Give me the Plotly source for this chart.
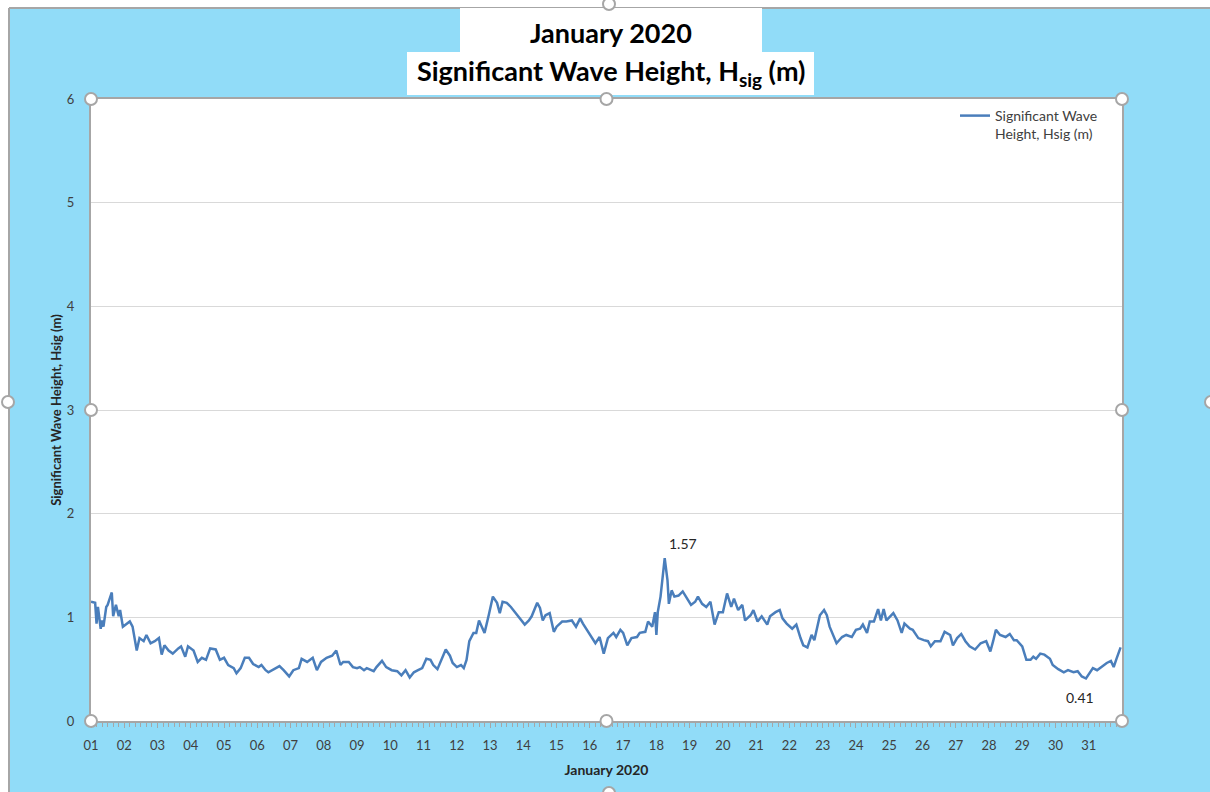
import pandas as pd
import plotly.graph_objects as go

# ---- data (hours since 2020-01-01 00:00, Hsig in m) ----
hours = [
    0, 3, 4, 5, 7, 8, 9, 11, 12, 15, 16, 18, 20, 21, 23, 26, 28, 30, 32, 33,
    35, 38, 40, 43, 46, 49, 51, 53, 56, 59, 63, 65, 68, 70, 74, 77, 80, 83, 86, 90,
    93, 96, 99, 103, 105, 108, 111, 114, 117, 121, 123, 126, 128, 132, 136, 139, 143, 146, 150, 152,
    156, 160, 163, 166, 170, 174, 177,
    180, 182, 186, 189, 192, 194, 197, 199, 204, 206, 210, 213, 217, 221, 224, 227, 230, 233, 236, 239,
    240, 242, 245, 247, 250, 253, 256, 259, 261, 264, 267, 269, 271, 273, 276, 278, 280, 282, 284, 287,
    290, 293, 295, 297, 300, 303, 306, 310, 313, 316, 318, 322, 324, 326, 328, 331, 334, 336, 340, 343,
    347, 350, 353, 355, 359, 361, 364,
    367, 370, 373, 377, 379, 382, 384, 387, 390, 394, 396, 400, 402, 405, 407, 408, 409, 411, 414, 416,
    417, 419, 421, 424, 427, 430, 433, 436, 438, 441, 444, 447, 450, 453, 456, 459, 462, 464, 467, 470,
    472, 476, 478, 481, 484, 488, 490, 494, 497, 499, 502, 506, 509, 512, 514, 517, 520, 522, 526, 529,
    531, 533, 536, 538, 542, 545, 549, 552,
    555, 557, 560, 562, 565, 568, 570, 572, 574, 577, 579, 582, 585, 587, 591, 593, 597, 601, 604, 606,
    609, 613, 616, 620, 622, 625, 628, 631, 634, 638, 642, 646, 649, 651, 653, 656, 660, 663, 666, 668,
    672, 675, 678, 680, 682, 685, 688, 692, 694, 698, 702, 705, 709, 712, 715, 718, 721, 723, 726, 729,
    733, 736, 738, 740, 743,
]
hsig = [
    1.15, 1.14, 0.94, 1.10, 0.89, 0.97, 0.91, 1.10, 1.12, 1.24, 1.01, 1.12, 1.01, 1.07, 0.91, 0.94, 0.96, 0.91, 0.78, 0.68,
    0.80, 0.77, 0.83, 0.75, 0.77, 0.80, 0.64, 0.73, 0.68, 0.65, 0.70, 0.72, 0.62, 0.72, 0.68, 0.57, 0.61, 0.59, 0.70, 0.69,
    0.59, 0.61, 0.54, 0.51, 0.46, 0.51, 0.61, 0.61, 0.55, 0.52, 0.54, 0.49, 0.47, 0.50, 0.53, 0.49, 0.43, 0.49, 0.51, 0.60,
    0.57, 0.61, 0.49, 0.57, 0.61, 0.63, 0.68,
    0.54, 0.57, 0.57, 0.52, 0.51, 0.52, 0.49, 0.51, 0.48, 0.52, 0.58, 0.52, 0.49, 0.48, 0.44, 0.49, 0.42, 0.47, 0.49, 0.51,
    0.54, 0.60, 0.59, 0.54, 0.50, 0.60, 0.69, 0.63, 0.56, 0.52, 0.54, 0.51, 0.59, 0.77, 0.85, 0.85, 0.97, 0.91, 0.85, 1.02,
    1.20, 1.14, 1.04, 1.15, 1.14, 1.10, 1.05, 0.99, 0.93, 0.97, 1.01, 1.14, 1.09, 0.97, 1.02, 1.04, 0.86, 0.91, 0.96, 0.96,
    0.97, 0.91, 0.99, 0.94, 0.86, 0.81, 0.75,
    0.81, 0.65, 0.80, 0.85, 0.81, 0.88, 0.85, 0.73, 0.80, 0.81, 0.85, 0.86, 0.96, 0.91, 1.05, 0.83, 1.05, 1.20, 1.57, 1.36,
    1.13, 1.26, 1.20, 1.21, 1.25, 1.18, 1.12, 1.15, 1.20, 1.13, 1.10, 1.15, 0.93, 1.05, 1.05, 1.23, 1.10, 1.18, 1.07, 1.12,
    0.97, 1.02, 1.07, 0.96, 1.01, 0.93, 1.01, 1.05, 1.07, 0.99, 0.94, 0.89, 0.93, 0.80, 0.73, 0.71, 0.83, 0.78, 1.02, 1.07,
    1.02, 0.91, 0.81, 0.75, 0.81, 0.83, 0.81, 0.88,
    0.89, 0.93, 0.85, 0.96, 0.96, 1.08, 0.97, 1.08, 0.97, 1.01, 1.04, 0.97, 0.85, 0.94, 0.89, 0.88, 0.80, 0.78, 0.77, 0.72,
    0.77, 0.77, 0.86, 0.83, 0.73, 0.80, 0.84, 0.77, 0.72, 0.69, 0.75, 0.77, 0.67, 0.77, 0.88, 0.83, 0.81, 0.84, 0.78, 0.78,
    0.72, 0.59, 0.59, 0.62, 0.60, 0.65, 0.64, 0.60, 0.54, 0.50, 0.47, 0.49, 0.47, 0.48, 0.43, 0.41, 0.47, 0.51, 0.49, 0.52,
    0.56, 0.58, 0.52, 0.60, 0.71,
]
day_labels = [f"{d:02d}" for d in range(1, 32)]
y_ticks = [0, 1, 2, 3, 4, 5, 6]
series_name = "Significant Wave<br>Height, Hsig (m)"
title_line1 = "January 2020"
title_line2 = "Significant Wave Height, H<sub>sig</sub> (m)"
x_title = "January 2020"
y_title = "Significant Wave Height, Hsig (m)"

start = pd.Timestamp("2020-01-01")
times = start + pd.to_timedelta(hours, unit="h")
day_ticks = [start + pd.Timedelta(days=i) for i in range(len(day_labels))]

BLUE_BG = "#91DCF8"
LINE = "#4A7EBB"
GRAY = "#A6A6A6"
TXT = "#404040"
FONT = "Lato"

W, H = 1210, 792
L, R, T, B = 91, 1122, 99, 721   # plot area in screen pixels


def px(xp):
    return (xp - L) / (R - L)


def py(yp):
    return (B - yp) / (B - T)


fig = go.Figure()
fig.add_trace(go.Scatter(
    x=times, y=hsig, mode="lines", name=series_name,
    line=dict(color=LINE, width=2.5), showlegend=True,
))

imax = max(range(len(hsig)), key=lambda i: hsig[i])
imin = min(range(len(hsig)), key=lambda i: hsig[i])

annotations = [
    dict(x=times[imax], y=hsig[imax], xref="x", yref="y", text=f"{hsig[imax]:.2f}",
         showarrow=False, xshift=18, yshift=15, font=dict(family=FONT, size=14, color="#262626")),
    dict(x=times[imin], y=hsig[imin], xref="x", yref="y", text=f"{hsig[imin]:.2f}",
         showarrow=False, xshift=-6, yshift=-19, font=dict(family=FONT, size=14, color="#262626")),
    dict(x=px(611), y=py(33), xref="paper", yref="paper", text=f"<b>{title_line1}</b>",
         showarrow=False, xanchor="center", yanchor="middle",
         font=dict(family=FONT, size=27, color="#000000")),
    dict(x=px(611), y=py(72), xref="paper", yref="paper", text=f"<b>{title_line2}</b>",
         showarrow=False, xanchor="center", yanchor="middle",
         font=dict(family=FONT, size=27, color="#000000")),
]

shapes = [
    # white page strips outside the chart frame (top and left)
    dict(type="rect", xref="paper", yref="paper", x0=px(-5), x1=px(1220), y0=py(8), y1=py(-5),
         fillcolor="white", line=dict(width=0), layer="above"),
    dict(type="rect", xref="paper", yref="paper", x0=px(-5), x1=px(9), y0=py(800), y1=py(8),
         fillcolor="white", line=dict(width=0), layer="above"),
    # chart frame border
    dict(type="line", xref="paper", yref="paper", x0=px(9), x1=px(1220), y0=py(8), y1=py(8),
         line=dict(color=GRAY, width=2), layer="above"),
    dict(type="line", xref="paper", yref="paper", x0=px(9), x1=px(9), y0=py(8), y1=py(800),
         line=dict(color=GRAY, width=2), layer="above"),
    # title boxes
    dict(type="rect", xref="paper", yref="paper", x0=px(460), x1=px(762), y0=py(53), y1=py(8),
         fillcolor="white", line=dict(width=0)),
    dict(type="rect", xref="paper", yref="paper", x0=px(407), x1=px(814), y0=py(95), y1=py(52),
         fillcolor="white", line=dict(width=0)),
]

# selection handles
handles = [(0, 0), (0.5, 0), (1, 0), (0, 0.5), (1, 0.5), (0, 1), (0.5, 1), (1, 1),
           (px(609), py(4)), (px(609), py(793)), (px(8), py(402)), (px(1211), py(402))]
for hx, hy in handles:
    shapes.append(dict(type="circle", xref="paper", yref="paper",
                       xsizemode="pixel", ysizemode="pixel",
                       xanchor=hx, yanchor=hy, x0=-6, x1=6, y0=-6, y1=6,
                       fillcolor="white", line=dict(color=GRAY, width=2), layer="above"))

fig.update_layout(
    width=W, height=H,
    margin=dict(l=L, r=W - R, t=T, b=H - B, pad=0),
    paper_bgcolor=BLUE_BG,
    plot_bgcolor="white",
    font=dict(family=FONT, size=13, color=TXT),
    showlegend=True,
    legend=dict(x=px(955), y=py(100), xanchor="left", yanchor="top",
                bgcolor="rgba(0,0,0,0)", font=dict(family=FONT, size=14, color=TXT),
                valign="top", itemwidth=30, tracegroupgap=0),
    annotations=annotations,
    shapes=shapes,
    xaxis=dict(
        type="date",
        range=[start, pd.Timestamp("2020-02-01")],
        tickmode="array", tickvals=day_ticks, ticktext=day_labels,
        ticks="outside", ticklen=5, tickcolor=GRAY, tickwidth=1,
        minor=dict(tickmode="linear", tick0="2020-01-01", dtick=4 * 3600000,
                   ticks="outside", ticklen=4, tickcolor=GRAY, tickwidth=1, showgrid=False),
        showgrid=False, showline=True, linecolor=GRAY, linewidth=2, mirror=True,
        tickfont=dict(family=FONT, size=13, color=TXT),
        ticklabelstandoff=6,
        title=dict(text=f"<b>{x_title}</b>", font=dict(family=FONT, size=14, color="#262626"), standoff=14),
        zeroline=False, fixedrange=True,
    ),
    yaxis=dict(
        range=[0, 6], tickvals=y_ticks, ticktext=[str(v) for v in y_ticks],
        showgrid=True, gridcolor="#D9D9D9", gridwidth=1,
        showline=True, linecolor=GRAY, linewidth=2, mirror=True,
        ticks="", ticklabelstandoff=12,
        tickfont=dict(family=FONT, size=13, color=TXT),
        title=dict(text=f"<b>{y_title}</b>", font=dict(family=FONT, size=13, color="#262626"), standoff=2),
        zeroline=False, fixedrange=True,
    ),
)

# place the figure at the window's top-left corner without scrollbars
page_fix = ("document.documentElement.style.overflow='hidden';"
            "document.body.style.margin='0';"
            "document.body.style.overflow='hidden';")
fig.write_html("out.html", post_script=page_fix,
               config={"displayModeBar": False, "staticPlot": True})
